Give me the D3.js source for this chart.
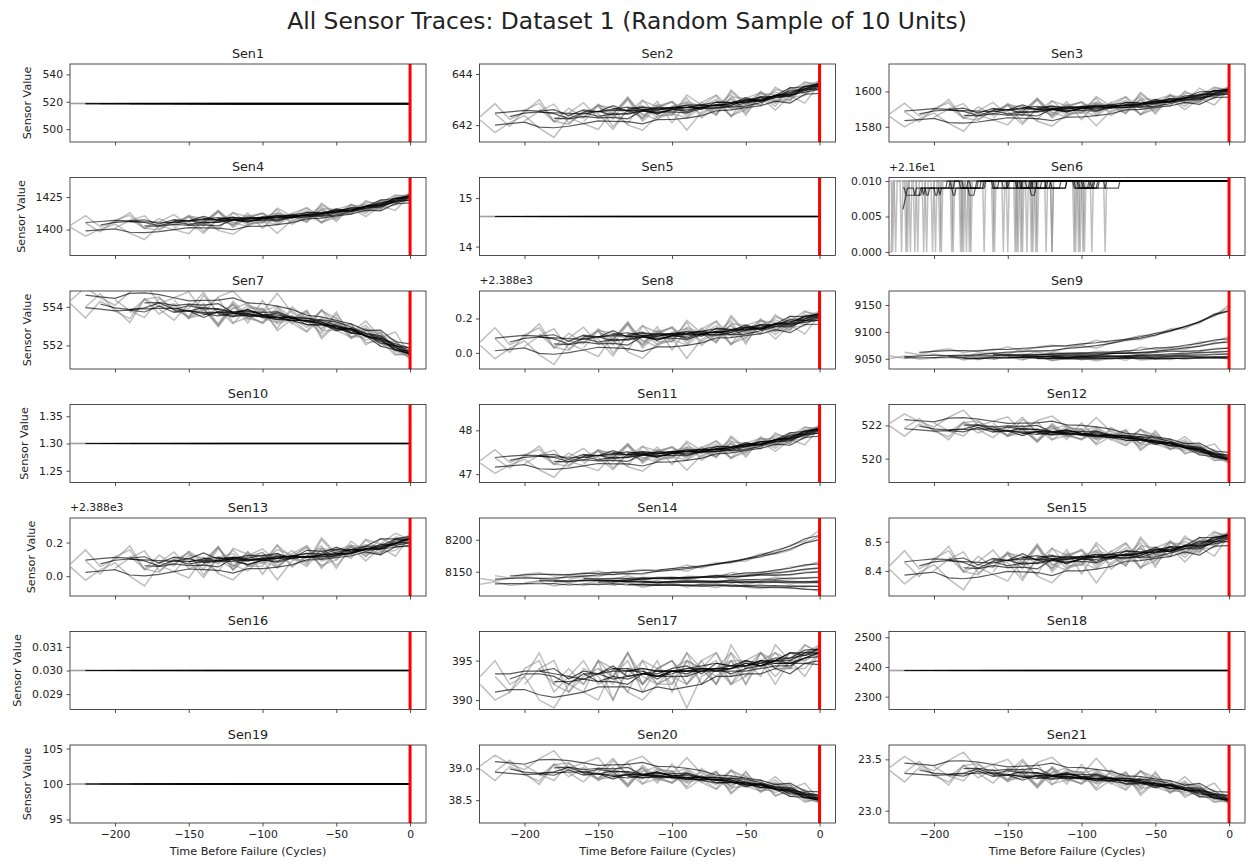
<!DOCTYPE html>
<html>
<head>
<meta charset="utf-8">
<script src="https://cdn.jsdelivr.net/npm/d3@7"></script>
<style>
  body { margin: 0; background: #fff; }
  text { font-family: "DejaVu Sans", sans-serif; }
</style>
</head>
<body>
<svg id="chart" width="1249" height="862"></svg>
<script>
// 10 randomly sampled units, sampled every 10 cycles, last sample is the failure cycle (0)
const unitStarts = [-230, -230, -220, -200, -190, -170, -160, -150, -140, -130]
const sampleStep = 10

const sensorNames = d3.range(1, 22).map(i => 'Sen' + i)

// sensors that never move
const constantValues = { Sen1: 518.67, Sen5: 14.62, Sen10: 1.30, Sen16: 0.03, Sen18: 2388, Sen19: 100 }

// Sen6 sits at 21.61 and drops to 21.60 on these cycles
const sen6High = 21.61
const sen6Low = 21.60
const sen6Drops = [
  [-230, -229, -226, -222, -216, -207, -199, -188, -178, -160, -144, -124],
  [-228, -219, -213, -205, -196, -182, -176, -153, -137, -105],
  [-218, -211, -201, -180, -141, -134, -101],
  [-195, -187, -175, -130, -120, -102],
  [-181, -159, -143, -104, -93],
  [-166, -140, -99, -84],
  [-150, -133, -98],
  [-145, -120],
  [-131],
  []
]

const sen2 = [
  [642.20, 641.71, 642.10, 642.37, 641.88, 641.52, 642.29, 642.06, 641.83, 642.60, 642.01, 641.80, 642.34, 642.51, 641.81, 642.50, 642.80, 642.38, 642.60, 643.08, 642.59, 643.14, 642.86, 643.62],
  [642.33, 642.84, 642.23, 642.49, 643.00, 642.15, 642.66, 642.30, 642.82, 642.47, 643.00, 642.15, 642.68, 642.94, 642.48, 642.90, 642.45, 643.38, 642.84, 642.79, 643.39, 643.28, 643.69, 643.53],
  [642.44, 641.96, 642.59, 642.85, 642.12, 642.38, 642.28, 642.80, 641.94, 642.60, 642.75, 642.28, 642.44, 643.06, 642.28, 642.70, 643.02, 642.60, 643.32, 642.93, 642.95, 643.51, 643.60],
  [642.17, 642.55, 642.82, 642.08, 642.48, 642.75, 642.39, 642.05, 642.95, 642.73, 642.39, 642.93, 642.73, 642.38, 643.32, 642.78, 643.12, 642.85, 643.48, 643.28, 643.73],
  [642.63, 642.15, 642.03, 642.55, 642.45, 641.84, 642.62, 642.28, 642.81, 642.47, 642.27, 642.70, 643.00, 642.32, 642.78, 643.12, 642.74, 643.46, 643.22, 643.57],
  [642.48, 642.88, 642.27, 642.42, 643.07, 642.23, 642.76, 642.89, 642.43, 642.75, 643.15, 642.35, 643.05, 643.27, 642.98, 643.00, 643.56, 643.65],
  [642.13, 642.77, 642.67, 642.45, 642.98, 642.38, 642.40, 643.18, 642.78, 642.41, 643.10, 643.05, 642.76, 643.48, 643.13, 643.42, 643.51],
  [642.72, 642.24, 643.02, 642.43, 642.21, 642.74, 642.88, 642.43, 642.75, 643.20, 642.38, 643.24, 643.20, 642.98, 643.66, 643.63],
  [642.44, 643.10, 642.38, 642.66, 642.91, 642.33, 642.88, 643.18, 642.62, 642.83, 643.27, 642.88, 643.38, 643.43, 643.75],
  [642.62, 642.28, 642.93, 642.09, 642.85, 642.68, 642.60, 643.05, 642.48, 643.09, 643.30, 643.08, 643.16, 643.63]
]

const sen3 = [
  [1585.8, 1579.9, 1584.6, 1587.7, 1581.9, 1577.5, 1586.7, 1583.9, 1581.1, 1590.3, 1583.1, 1580.4, 1586.8, 1589.2, 1580.6, 1589.0, 1592.5, 1587.2, 1589.9, 1595.7, 1589.7, 1596.1, 1592.3, 1601.3],
  [1587.3, 1593.4, 1586.1, 1589.2, 1595.4, 1585.0, 1591.2, 1586.9, 1593.1, 1588.8, 1595.1, 1584.9, 1591.3, 1594.3, 1588.7, 1593.8, 1588.3, 1599.5, 1592.6, 1592.1, 1599.3, 1597.6, 1602.5, 1600.1],
  [1588.6, 1582.8, 1590.4, 1593.6, 1584.7, 1587.9, 1586.6, 1592.8, 1582.5, 1590.3, 1592.1, 1586.5, 1588.3, 1596.2, 1586.3, 1591.3, 1595.0, 1589.9, 1598.4, 1593.6, 1593.7, 1600.1, 1601.0],
  [1585.3, 1590.0, 1593.1, 1584.3, 1589.0, 1592.2, 1587.9, 1583.7, 1594.5, 1591.9, 1587.7, 1594.1, 1591.7, 1587.4, 1598.6, 1592.0, 1596.0, 1594.3, 1601.9, 1597.4, 1602.5],
  [1590.9, 1585.0, 1583.7, 1589.9, 1588.6, 1581.3, 1590.6, 1586.4, 1592.8, 1588.9, 1586.3, 1591.4, 1594.9, 1586.6, 1592.0, 1596.0, 1591.5, 1597.6, 1596.5, 1600.7],
  [1589.1, 1593.8, 1586.5, 1588.2, 1596.0, 1585.8, 1592.2, 1593.7, 1588.1, 1592.0, 1596.7, 1586.9, 1595.3, 1597.8, 1594.2, 1594.3, 1600.7, 1601.6],
  [1584.8, 1592.5, 1591.2, 1588.5, 1594.8, 1587.7, 1587.7, 1597.1, 1591.7, 1587.7, 1595.9, 1595.3, 1591.8, 1600.2, 1595.8, 1599.2, 1599.8],
  [1591.9, 1586.1, 1595.4, 1588.2, 1585.6, 1591.9, 1593.5, 1588.1, 1591.9, 1597.1, 1587.2, 1597.5, 1596.9, 1594.0, 1601.9, 1601.3],
  [1588.5, 1596.3, 1587.6, 1591.0, 1594.0, 1586.9, 1593.5, 1597.0, 1590.2, 1592.6, 1597.8, 1593.0, 1598.8, 1599.2, 1602.8],
  [1590.6, 1586.4, 1594.3, 1584.1, 1593.2, 1591.1, 1590.1, 1595.3, 1588.4, 1595.7, 1598.1, 1595.2, 1595.9, 1601.3]
]

const sen4 = [
  [1401.6, 1394.8, 1400.3, 1404.1, 1397.2, 1392.3, 1403.1, 1399.9, 1396.8, 1407.6, 1399.3, 1396.3, 1403.8, 1406.9, 1397.1, 1407.1, 1411.5, 1405.7, 1409.2, 1416.4, 1410.0, 1418.2, 1414.7, 1426.4],
  [1403.4, 1410.6, 1402.1, 1405.8, 1413.0, 1401.0, 1408.4, 1403.4, 1410.8, 1405.9, 1413.4, 1401.6, 1409.1, 1412.9, 1406.5, 1412.7, 1406.6, 1420.1, 1412.3, 1412.2, 1421.2, 1420.0, 1426.7, 1424.9],
  [1405.0, 1398.2, 1407.2, 1410.9, 1400.7, 1404.5, 1403.0, 1410.5, 1398.5, 1407.8, 1410.0, 1403.5, 1405.8, 1415.3, 1403.9, 1410.1, 1414.8, 1409.2, 1419.6, 1414.5, 1415.4, 1423.9, 1426.0],
  [1401.2, 1406.7, 1410.5, 1400.3, 1405.9, 1409.8, 1404.8, 1400.0, 1412.8, 1409.8, 1405.1, 1412.9, 1410.3, 1405.5, 1419.0, 1411.6, 1416.8, 1413.5, 1422.8, 1420.7, 1427.8],
  [1407.8, 1401.0, 1399.6, 1406.9, 1405.6, 1397.1, 1408.1, 1403.3, 1410.9, 1406.5, 1403.7, 1409.9, 1414.3, 1405.0, 1411.6, 1416.8, 1412.1, 1420.0, 1419.6, 1425.6],
  [1405.9, 1411.5, 1403.1, 1405.1, 1414.4, 1402.6, 1410.2, 1412.2, 1405.8, 1410.6, 1416.4, 1405.3, 1415.5, 1418.9, 1415.2, 1416.1, 1424.6, 1426.7],
  [1400.9, 1410.1, 1408.7, 1405.6, 1413.2, 1404.9, 1405.1, 1416.4, 1410.3, 1405.9, 1415.9, 1415.5, 1411.8, 1422.3, 1417.8, 1422.8, 1424.6],
  [1409.4, 1402.7, 1413.7, 1405.4, 1402.4, 1410.1, 1412.2, 1406.0, 1410.8, 1417.3, 1406.0, 1418.5, 1418.4, 1415.7, 1426.0, 1426.4],
  [1405.5, 1414.8, 1404.7, 1408.8, 1412.5, 1404.4, 1412.4, 1416.8, 1409.2, 1412.3, 1418.9, 1413.8, 1421.4, 1422.8, 1428.1],
  [1408.1, 1403.3, 1412.6, 1400.9, 1411.8, 1409.6, 1408.7, 1415.2, 1407.4, 1416.4, 1419.8, 1417.1, 1418.9, 1426.4]
]

const sen7 = [
  [554.34, 555.01, 554.47, 554.08, 554.76, 555.26, 554.16, 554.47, 554.78, 553.69, 554.52, 554.82, 554.05, 553.73, 554.70, 553.68, 553.22, 553.79, 553.42, 552.67, 553.26, 552.41, 552.70, 551.46],
  [554.16, 553.43, 554.29, 553.91, 553.18, 554.39, 553.63, 554.12, 553.38, 553.86, 553.11, 554.29, 553.52, 553.13, 553.76, 553.12, 553.71, 552.35, 553.11, 553.09, 552.14, 552.23, 551.50, 551.61],
  [553.99, 554.68, 553.77, 553.39, 554.42, 554.02, 554.16, 553.41, 554.60, 553.67, 553.45, 554.08, 553.84, 552.88, 554.00, 553.36, 552.88, 553.42, 552.35, 552.81, 552.69, 551.78, 551.50],
  [554.37, 553.81, 553.44, 554.44, 553.87, 553.48, 553.97, 554.45, 553.17, 553.45, 553.91, 553.12, 553.36, 553.82, 552.46, 553.18, 552.63, 552.91, 551.95, 552.10, 551.32],
  [553.70, 554.39, 554.51, 553.77, 553.90, 554.74, 553.64, 554.12, 553.34, 553.77, 554.04, 553.40, 552.94, 553.86, 553.18, 552.63, 553.05, 552.23, 552.21, 551.54],
  [553.88, 553.31, 554.15, 553.94, 553.01, 554.19, 553.41, 553.20, 553.83, 553.33, 552.73, 553.83, 552.79, 552.42, 552.74, 552.62, 551.71, 551.43],
  [554.37, 553.45, 553.58, 553.89, 553.13, 553.94, 553.91, 552.77, 553.36, 553.78, 552.77, 552.79, 553.13, 552.03, 552.45, 551.89, 551.64],
  [553.52, 554.18, 553.08, 553.91, 554.19, 553.41, 553.19, 553.79, 553.29, 552.63, 553.74, 552.46, 552.42, 552.66, 551.57, 551.46],
  [553.90, 552.97, 553.98, 553.55, 553.17, 553.97, 553.15, 552.69, 553.44, 553.11, 552.42, 552.88, 552.09, 551.89, 551.29],
  [553.64, 554.12, 553.17, 554.33, 553.23, 553.43, 553.50, 552.84, 553.60, 552.67, 552.28, 552.52, 552.28, 551.46]
]

// Sen8 and Sen13 are kept as the amount above 2388 (the axis shows +2.388e3)
const sen8 = [
  [0.044, -0.034, 0.027, 0.069, -0.010, -0.068, 0.054, 0.017, -0.021, 0.102, 0.005, -0.032, 0.052, 0.084, -0.031, 0.079, 0.126, 0.054, 0.087, 0.162, 0.081, 0.162, 0.109, 0.224],
  [0.064, 0.146, 0.047, 0.089, 0.170, 0.032, 0.114, 0.057, 0.139, 0.082, 0.165, 0.028, 0.112, 0.152, 0.077, 0.143, 0.070, 0.218, 0.123, 0.114, 0.209, 0.182, 0.245, 0.208],
  [0.082, 0.003, 0.105, 0.146, 0.028, 0.070, 0.053, 0.135, -0.002, 0.101, 0.124, 0.048, 0.072, 0.177, 0.043, 0.110, 0.158, 0.087, 0.198, 0.133, 0.130, 0.213, 0.220],
  [0.037, 0.098, 0.140, 0.022, 0.085, 0.127, 0.070, 0.013, 0.156, 0.120, 0.064, 0.149, 0.115, 0.058, 0.206, 0.115, 0.166, 0.121, 0.214, 0.177, 0.240],
  [0.110, 0.032, 0.014, 0.097, 0.079, -0.018, 0.105, 0.048, 0.132, 0.080, 0.045, 0.111, 0.158, 0.046, 0.115, 0.166, 0.105, 0.182, 0.165, 0.216],
  [0.086, 0.149, 0.051, 0.074, 0.177, 0.040, 0.124, 0.144, 0.069, 0.119, 0.182, 0.050, 0.159, 0.190, 0.141, 0.138, 0.221, 0.228],
  [0.029, 0.131, 0.114, 0.077, 0.160, 0.064, 0.064, 0.189, 0.115, 0.062, 0.170, 0.159, 0.110, 0.221, 0.158, 0.201, 0.204],
  [0.123, 0.046, 0.169, 0.072, 0.036, 0.120, 0.141, 0.067, 0.118, 0.186, 0.051, 0.186, 0.177, 0.134, 0.237, 0.224],
  [0.078, 0.181, 0.064, 0.108, 0.148, 0.053, 0.139, 0.186, 0.094, 0.123, 0.190, 0.125, 0.198, 0.201, 0.244],
  [0.105, 0.048, 0.152, 0.016, 0.137, 0.107, 0.094, 0.162, 0.067, 0.162, 0.193, 0.150, 0.157, 0.224]
]

const sen9 = [
  [9055.0, 9050.9, 9055.6, 9059.1, 9055.0, 9052.2, 9061.1, 9060.0, 9058.9, 9067.8, 9063.4, 9062.8, 9070.2, 9074.3, 9069.6, 9079.9, 9086.1, 9085.8, 9093.0, 9103.6, 9106.0, 9120.4, 9128.7, 9150.3],
  [9050.3, 9055.3, 9049.0, 9051.5, 9056.5, 9047.7, 9052.8, 9049.0, 9054.0, 9050.3, 9055.3, 9046.5, 9051.5, 9053.8, 9048.7, 9052.5, 9047.5, 9056.3, 9049.7, 9048.5, 9053.5, 9050.8, 9053.3, 9049.2],
  [9062.2, 9057.9, 9065.1, 9068.4, 9061.8, 9065.5, 9065.5, 9071.9, 9064.4, 9072.4, 9075.3, 9072.4, 9075.7, 9084.6, 9079.2, 9086.4, 9093.1, 9093.2, 9105.5, 9108.0, 9116.2, 9131.9, 9145.0],
  [9051.3, 9055.5, 9058.4, 9051.5, 9055.8, 9058.9, 9055.7, 9052.6, 9062.2, 9060.7, 9057.8, 9064.0, 9063.1, 9060.5, 9071.2, 9067.2, 9072.4, 9072.0, 9081.0, 9082.5, 9091.3],
  [9054.2, 9049.5, 9048.8, 9054.3, 9053.6, 9047.9, 9056.1, 9053.0, 9058.9, 9056.2, 9054.8, 9060.0, 9063.9, 9058.1, 9063.9, 9069.0, 9067.3, 9075.0, 9077.3, 9084.7],
  [9057.0, 9061.0, 9054.9, 9056.4, 9063.0, 9054.5, 9059.9, 9061.3, 9056.7, 9060.1, 9064.2, 9056.1, 9063.3, 9065.7, 9062.9, 9063.4, 9069.3, 9070.5],
  [9048.4, 9054.9, 9054.0, 9051.7, 9057.1, 9051.1, 9051.2, 9059.3, 9054.9, 9051.7, 9058.7, 9058.3, 9055.6, 9063.0, 9059.6, 9063.0, 9064.0],
  [9056.5, 9051.6, 9059.2, 9053.0, 9050.6, 9055.8, 9057.0, 9052.1, 9055.1, 9059.1, 9050.3, 9058.5, 9057.4, 9054.2, 9060.0, 9058.3],
  [9048.4, 9054.8, 9047.3, 9050.0, 9052.3, 9046.1, 9051.4, 9054.0, 9047.9, 9049.4, 9053.3, 9048.5, 9052.6, 9051.8, 9053.5],
  [9053.9, 9050.2, 9056.5, 9047.8, 9055.2, 9053.1, 9051.9, 9055.9, 9049.5, 9055.0, 9056.2, 9052.8, 9052.2, 9055.3]
]

const sen11 = [
  [47.25, 47.02, 47.21, 47.34, 47.10, 46.93, 47.30, 47.19, 47.08, 47.46, 47.17, 47.07, 47.32, 47.43, 47.09, 47.43, 47.58, 47.38, 47.50, 47.74, 47.52, 47.79, 47.67, 48.06],
  [47.31, 47.56, 47.27, 47.40, 47.64, 47.23, 47.48, 47.31, 47.56, 47.40, 47.65, 47.25, 47.50, 47.63, 47.41, 47.62, 47.41, 47.87, 47.60, 47.60, 47.90, 47.85, 48.08, 48.01],
  [47.37, 47.14, 47.44, 47.57, 47.22, 47.35, 47.30, 47.55, 47.14, 47.46, 47.53, 47.31, 47.39, 47.71, 47.32, 47.53, 47.69, 47.50, 47.85, 47.68, 47.70, 47.98, 48.05],
  [47.24, 47.43, 47.55, 47.21, 47.40, 47.53, 47.36, 47.19, 47.63, 47.53, 47.37, 47.63, 47.54, 47.38, 47.83, 47.58, 47.75, 47.64, 47.95, 47.88, 48.11],
  [47.46, 47.23, 47.18, 47.43, 47.38, 47.10, 47.47, 47.31, 47.56, 47.41, 47.32, 47.53, 47.68, 47.35, 47.58, 47.75, 47.59, 47.85, 47.84, 48.04],
  [47.40, 47.59, 47.30, 47.37, 47.69, 47.28, 47.54, 47.61, 47.39, 47.55, 47.75, 47.37, 47.71, 47.82, 47.70, 47.72, 48.01, 48.07],
  [47.23, 47.54, 47.49, 47.39, 47.64, 47.36, 47.37, 47.75, 47.54, 47.39, 47.73, 47.71, 47.58, 47.94, 47.78, 47.95, 48.00],
  [47.52, 47.29, 47.66, 47.38, 47.28, 47.53, 47.61, 47.40, 47.56, 47.77, 47.39, 47.81, 47.81, 47.71, 48.06, 48.06],
  [47.38, 47.70, 47.35, 47.49, 47.62, 47.34, 47.61, 47.76, 47.50, 47.60, 47.82, 47.65, 47.90, 47.95, 48.12],
  [47.47, 47.31, 47.62, 47.22, 47.59, 47.52, 47.49, 47.70, 47.44, 47.74, 47.86, 47.76, 47.82, 48.06]
]

const sen12 = [
  [522.12, 522.70, 522.23, 521.91, 522.49, 522.92, 521.98, 522.25, 522.52, 521.59, 522.30, 522.56, 521.90, 521.64, 522.48, 521.61, 521.23, 521.72, 521.42, 520.79, 521.32, 520.61, 520.89, 519.87],
  [521.97, 521.35, 522.08, 521.76, 521.14, 522.17, 521.53, 521.95, 521.32, 521.74, 521.10, 522.11, 521.45, 521.13, 521.67, 521.13, 521.65, 520.49, 521.15, 521.15, 520.36, 520.46, 519.87, 519.99],
  [521.83, 522.41, 521.64, 521.32, 522.20, 521.86, 521.98, 521.35, 522.37, 521.58, 521.39, 521.93, 521.73, 520.92, 521.88, 521.35, 520.94, 521.42, 520.52, 520.93, 520.85, 520.11, 519.90],
  [522.15, 521.68, 521.36, 522.22, 521.74, 521.41, 521.83, 522.24, 521.15, 521.39, 521.79, 521.13, 521.34, 521.74, 520.58, 521.21, 520.76, 521.02, 520.22, 520.38, 519.75],
  [521.59, 522.17, 522.28, 521.65, 521.77, 522.49, 521.55, 521.96, 521.30, 521.67, 521.91, 521.37, 520.99, 521.78, 521.21, 520.76, 521.14, 520.46, 520.47, 519.93],
  [521.74, 521.26, 521.98, 521.80, 521.01, 522.02, 521.36, 521.19, 521.73, 521.31, 520.81, 521.75, 520.88, 520.58, 520.87, 520.79, 520.05, 519.84],
  [522.16, 521.38, 521.50, 521.76, 521.12, 521.81, 521.79, 520.83, 521.34, 521.71, 520.85, 520.88, 521.18, 520.27, 520.64, 520.20, 520.02],
  [521.44, 522.01, 521.07, 521.78, 522.02, 521.37, 521.19, 521.70, 521.29, 520.73, 521.69, 520.61, 520.60, 520.82, 519.93, 519.87],
  [521.77, 520.98, 521.84, 521.48, 521.16, 521.85, 521.16, 520.78, 521.42, 521.15, 520.58, 520.99, 520.34, 520.20, 519.72],
  [521.55, 521.96, 521.15, 522.15, 521.22, 521.40, 521.47, 520.91, 521.57, 520.79, 520.48, 520.70, 520.53, 519.87]
]

const sen13 = [
  [0.054, -0.024, 0.037, 0.079, 0.000, -0.058, 0.064, 0.027, -0.011, 0.112, 0.015, -0.022, 0.062, 0.094, -0.021, 0.089, 0.136, 0.064, 0.097, 0.172, 0.091, 0.172, 0.119, 0.234],
  [0.074, 0.156, 0.057, 0.099, 0.180, 0.042, 0.124, 0.067, 0.149, 0.092, 0.175, 0.038, 0.122, 0.162, 0.087, 0.153, 0.080, 0.228, 0.133, 0.124, 0.219, 0.192, 0.255, 0.218],
  [0.092, 0.013, 0.115, 0.156, 0.038, 0.080, 0.063, 0.145, 0.008, 0.111, 0.134, 0.058, 0.082, 0.187, 0.053, 0.120, 0.168, 0.097, 0.208, 0.143, 0.140, 0.223, 0.230],
  [0.047, 0.108, 0.150, 0.032, 0.095, 0.137, 0.080, 0.023, 0.166, 0.130, 0.074, 0.159, 0.125, 0.068, 0.216, 0.125, 0.176, 0.131, 0.224, 0.187, 0.250],
  [0.120, 0.042, 0.024, 0.107, 0.089, -0.008, 0.115, 0.058, 0.142, 0.090, 0.055, 0.121, 0.168, 0.056, 0.125, 0.176, 0.115, 0.192, 0.175, 0.226],
  [0.081, 0.144, 0.046, 0.069, 0.172, 0.035, 0.119, 0.139, 0.064, 0.114, 0.177, 0.045, 0.154, 0.185, 0.136, 0.133, 0.216, 0.223],
  [0.024, 0.126, 0.109, 0.072, 0.155, 0.059, 0.059, 0.184, 0.110, 0.057, 0.165, 0.154, 0.105, 0.216, 0.153, 0.196, 0.199],
  [0.118, 0.041, 0.164, 0.067, 0.031, 0.115, 0.136, 0.062, 0.113, 0.181, 0.046, 0.181, 0.172, 0.129, 0.232, 0.219],
  [0.073, 0.176, 0.059, 0.103, 0.143, 0.048, 0.134, 0.181, 0.089, 0.118, 0.185, 0.120, 0.193, 0.196, 0.239],
  [0.100, 0.043, 0.147, 0.011, 0.132, 0.102, 0.089, 0.157, 0.062, 0.157, 0.188, 0.145, 0.152, 0.219]
]

const sen14 = [
  [8139.2, 8136.0, 8139.7, 8142.5, 8139.2, 8137.0, 8144.1, 8143.2, 8142.3, 8149.5, 8146.0, 8145.5, 8151.3, 8154.6, 8150.9, 8159.1, 8164.1, 8163.8, 8169.5, 8178.0, 8179.9, 8191.4, 8198.1, 8215.2],
  [8130.2, 8134.1, 8129.0, 8130.9, 8134.8, 8127.7, 8131.6, 8128.4, 8132.3, 8129.1, 8132.9, 8125.7, 8129.5, 8131.0, 8126.7, 8129.3, 8124.9, 8131.4, 8125.6, 8123.9, 8127.0, 8123.7, 8124.3, 8119.4],
  [8143.6, 8140.3, 8145.9, 8148.5, 8143.2, 8146.1, 8146.0, 8151.0, 8144.9, 8151.2, 8153.5, 8151.0, 8153.6, 8160.5, 8156.0, 8161.5, 8166.7, 8166.5, 8175.9, 8177.5, 8183.5, 8195.3, 8205.0],
  [8132.6, 8135.9, 8138.2, 8132.7, 8136.2, 8138.6, 8136.1, 8133.8, 8141.4, 8140.2, 8138.0, 8143.0, 8142.2, 8140.3, 8148.9, 8145.8, 8150.1, 8150.0, 8157.3, 8158.8, 8166.0],
  [8138.1, 8134.4, 8133.7, 8138.0, 8137.4, 8132.7, 8139.2, 8136.7, 8141.2, 8139.0, 8137.7, 8141.6, 8144.5, 8139.7, 8144.1, 8147.7, 8145.9, 8151.5, 8152.7, 8157.8],
  [8138.6, 8141.8, 8137.0, 8138.2, 8143.5, 8136.8, 8141.1, 8142.2, 8138.6, 8141.3, 8144.6, 8138.3, 8144.1, 8146.0, 8143.9, 8144.4, 8149.2, 8150.4],
  [8130.6, 8135.8, 8134.9, 8133.1, 8137.3, 8132.6, 8132.6, 8138.9, 8135.3, 8132.7, 8138.2, 8137.8, 8135.5, 8141.2, 8138.3, 8140.7, 8141.2],
  [8136.2, 8132.2, 8138.1, 8133.1, 8131.1, 8135.0, 8135.7, 8131.7, 8133.8, 8136.7, 8129.4, 8135.4, 8134.0, 8130.8, 8134.5, 8132.2],
  [8128.7, 8133.6, 8127.6, 8129.5, 8131.2, 8126.1, 8130.0, 8131.9, 8126.7, 8127.5, 8130.1, 8125.9, 8128.3, 8126.9, 8127.2],
  [8134.6, 8131.7, 8136.7, 8129.8, 8135.7, 8134.0, 8133.1, 8136.3, 8131.3, 8135.7, 8136.7, 8134.1, 8133.7, 8136.2]
]

const sen15 = [
  [8.405, 8.356, 8.395, 8.421, 8.372, 8.335, 8.412, 8.388, 8.365, 8.442, 8.382, 8.359, 8.411, 8.431, 8.359, 8.428, 8.458, 8.413, 8.434, 8.481, 8.431, 8.482, 8.450, 8.523],
  [8.418, 8.469, 8.407, 8.433, 8.484, 8.398, 8.450, 8.413, 8.465, 8.430, 8.482, 8.396, 8.448, 8.474, 8.427, 8.468, 8.423, 8.516, 8.457, 8.451, 8.511, 8.495, 8.535, 8.513],
  [8.429, 8.380, 8.443, 8.469, 8.395, 8.422, 8.411, 8.463, 8.377, 8.442, 8.456, 8.408, 8.424, 8.489, 8.406, 8.448, 8.478, 8.434, 8.504, 8.464, 8.462, 8.515, 8.520],
  [8.401, 8.439, 8.465, 8.392, 8.431, 8.458, 8.422, 8.387, 8.476, 8.453, 8.419, 8.472, 8.451, 8.416, 8.508, 8.452, 8.484, 8.456, 8.515, 8.492, 8.533],
  [8.447, 8.398, 8.387, 8.438, 8.428, 8.367, 8.444, 8.409, 8.461, 8.429, 8.407, 8.448, 8.478, 8.408, 8.452, 8.484, 8.446, 8.495, 8.485, 8.518],
  [8.432, 8.471, 8.410, 8.425, 8.489, 8.404, 8.456, 8.469, 8.422, 8.453, 8.493, 8.411, 8.479, 8.499, 8.469, 8.467, 8.520, 8.525],
  [8.396, 8.460, 8.450, 8.427, 8.479, 8.418, 8.419, 8.497, 8.451, 8.418, 8.486, 8.479, 8.449, 8.519, 8.480, 8.507, 8.510],
  [8.455, 8.407, 8.484, 8.424, 8.401, 8.454, 8.467, 8.421, 8.453, 8.496, 8.412, 8.496, 8.491, 8.465, 8.530, 8.523],
  [8.427, 8.492, 8.419, 8.446, 8.471, 8.412, 8.466, 8.496, 8.438, 8.457, 8.499, 8.459, 8.505, 8.507, 8.535],
  [8.444, 8.409, 8.473, 8.389, 8.464, 8.446, 8.438, 8.481, 8.422, 8.481, 8.501, 8.475, 8.480, 8.523]
]

const sen17 = [
  [392, 390, 391, 393, 390, 389, 392, 391, 390, 394, 391, 390, 392, 393, 389, 393, 394, 392, 393, 395, 392, 395, 393, 396],
  [393, 395, 392, 393, 396, 392, 394, 392, 395, 393, 395, 391, 394, 395, 393, 395, 392, 397, 394, 394, 396, 395, 397, 396],
  [393, 391, 394, 395, 391, 393, 392, 395, 390, 394, 394, 392, 393, 396, 392, 394, 395, 393, 396, 394, 394, 396, 396],
  [392, 394, 395, 391, 393, 394, 393, 391, 395, 394, 392, 395, 394, 392, 396, 394, 395, 394, 396, 395, 397],
  [394, 392, 391, 394, 393, 390, 394, 392, 394, 393, 392, 394, 395, 392, 394, 395, 393, 395, 395, 396],
  [393, 395, 392, 393, 396, 392, 394, 395, 392, 394, 396, 392, 395, 396, 394, 394, 396, 396],
  [391, 395, 394, 393, 395, 392, 392, 396, 394, 392, 395, 395, 393, 397, 395, 396, 396],
  [394, 392, 396, 393, 392, 394, 395, 392, 394, 396, 392, 396, 395, 394, 397, 396],
  [393, 396, 392, 394, 395, 392, 395, 396, 393, 394, 396, 394, 396, 396, 397],
  [394, 392, 395, 391, 395, 394, 393, 395, 392, 395, 396, 394, 394, 396]
]

const sen20 = [
  [39.04, 39.21, 39.07, 38.98, 39.15, 39.28, 39.00, 39.09, 39.17, 38.89, 39.11, 39.19, 38.99, 38.92, 39.17, 38.92, 38.81, 38.96, 38.88, 38.70, 38.87, 38.67, 38.77, 38.49],
  [38.99, 38.81, 39.03, 38.93, 38.75, 39.06, 38.87, 39.00, 38.81, 38.94, 38.75, 39.05, 38.86, 38.77, 38.93, 38.78, 38.94, 38.60, 38.80, 38.81, 38.58, 38.63, 38.47, 38.53],
  [38.95, 39.13, 38.90, 38.80, 39.07, 38.97, 39.01, 38.82, 39.13, 38.89, 38.84, 39.00, 38.95, 38.71, 39.00, 38.85, 38.73, 38.88, 38.62, 38.76, 38.75, 38.54, 38.50],
  [39.05, 38.91, 38.81, 39.08, 38.93, 38.84, 38.96, 39.09, 38.76, 38.84, 38.96, 38.77, 38.84, 38.96, 38.62, 38.82, 38.69, 38.78, 38.56, 38.62, 38.46],
  [38.88, 39.06, 39.09, 38.91, 38.94, 39.16, 38.88, 39.01, 38.81, 38.93, 39.00, 38.85, 38.74, 38.98, 38.82, 38.69, 38.82, 38.63, 38.65, 38.51],
  [38.93, 38.79, 39.01, 38.95, 38.72, 39.02, 38.83, 38.78, 38.95, 38.83, 38.68, 38.97, 38.72, 38.64, 38.74, 38.73, 38.52, 38.48],
  [39.06, 38.83, 38.86, 38.94, 38.75, 38.97, 38.96, 38.68, 38.84, 38.95, 38.70, 38.72, 38.82, 38.56, 38.68, 38.57, 38.54],
  [38.85, 39.02, 38.74, 38.95, 39.03, 38.84, 38.79, 38.95, 38.83, 38.67, 38.96, 38.65, 38.66, 38.74, 38.49, 38.49],
  [38.95, 38.71, 38.97, 38.87, 38.77, 38.98, 38.78, 38.67, 38.87, 38.80, 38.64, 38.77, 38.59, 38.57, 38.45],
  [38.88, 39.01, 38.77, 39.07, 38.80, 38.86, 38.88, 38.72, 38.93, 38.70, 38.62, 38.70, 38.67, 38.49]
]

const sen21 = [
  [23.42, 23.53, 23.44, 23.39, 23.49, 23.57, 23.40, 23.45, 23.50, 23.33, 23.47, 23.52, 23.40, 23.35, 23.51, 23.35, 23.29, 23.38, 23.33, 23.22, 23.33, 23.20, 23.27, 23.09],
  [23.39, 23.28, 23.42, 23.36, 23.25, 23.44, 23.32, 23.40, 23.28, 23.36, 23.25, 23.43, 23.32, 23.26, 23.36, 23.26, 23.36, 23.15, 23.28, 23.29, 23.15, 23.18, 23.08, 23.12],
  [23.37, 23.48, 23.34, 23.28, 23.44, 23.38, 23.40, 23.29, 23.48, 23.33, 23.30, 23.40, 23.37, 23.22, 23.40, 23.31, 23.24, 23.33, 23.17, 23.25, 23.25, 23.12, 23.10],
  [23.43, 23.34, 23.29, 23.45, 23.36, 23.30, 23.38, 23.46, 23.26, 23.30, 23.38, 23.26, 23.30, 23.38, 23.17, 23.29, 23.21, 23.27, 23.13, 23.17, 23.07],
  [23.33, 23.44, 23.46, 23.34, 23.37, 23.50, 23.33, 23.41, 23.29, 23.36, 23.40, 23.31, 23.24, 23.39, 23.29, 23.21, 23.29, 23.18, 23.19, 23.11],
  [23.36, 23.27, 23.41, 23.37, 23.23, 23.42, 23.30, 23.27, 23.37, 23.30, 23.21, 23.39, 23.23, 23.18, 23.24, 23.24, 23.11, 23.09],
  [23.44, 23.30, 23.32, 23.37, 23.25, 23.38, 23.38, 23.20, 23.30, 23.37, 23.22, 23.23, 23.29, 23.13, 23.21, 23.14, 23.12],
  [23.31, 23.41, 23.24, 23.37, 23.42, 23.30, 23.27, 23.37, 23.30, 23.20, 23.38, 23.19, 23.19, 23.24, 23.09, 23.09],
  [23.37, 23.22, 23.38, 23.32, 23.26, 23.39, 23.27, 23.20, 23.33, 23.28, 23.18, 23.27, 23.15, 23.14, 23.07],
  [23.33, 23.41, 23.26, 23.45, 23.28, 23.31, 23.33, 23.23, 23.36, 23.22, 23.17, 23.22, 23.20, 23.09]
]

const sensorData = {
  Sen2: sen2, Sen3: sen3, Sen4: sen4, Sen7: sen7, Sen8: sen8, Sen9: sen9, Sen11: sen11,
  Sen12: sen12, Sen13: sen13, Sen14: sen14, Sen15: sen15, Sen17: sen17, Sen20: sen20, Sen21: sen21
}

const offsetLabels = { Sen6: '+2.16e1', Sen8: '+2.388e3', Sen13: '+2.388e3' }
const sen6Offset = 21.6

const yDomains = {
  Sen1: [490.6, 547.6], Sen2: [641.34, 644.39], Sen3: [1571.4, 1615.5], Sen4: [1380, 1440],
  Sen5: [13.816, 15.424], Sen6: [-0.0005, 0.0105], Sen7: [550.78, 554.82], Sen8: [-0.094, 0.36],
  Sen9: [9031, 9176], Sen10: [1.2285, 1.3715], Sen11: [46.81, 48.59], Sen12: [518.56, 523.26],
  Sen13: [-0.118, 0.346], Sen14: [8112, 8234], Sen15: [8.314, 8.581], Sen16: [0.02835, 0.03165],
  Sen17: [388.8, 398.7], Sen18: [2256.7, 2519.3], Sen19: [94.5, 105.5], Sen20: [38.14, 39.37],
  Sen21: [22.88, 23.64]
}

const yTicks = {
  Sen1: [500, 520, 540], Sen2: [642, 644], Sen3: [1580, 1600], Sen4: [1400, 1425],
  Sen5: [14, 15], Sen6: [0, 0.005, 0.01], Sen7: [552, 554], Sen8: [0, 0.2],
  Sen9: [9050, 9100, 9150], Sen10: [1.25, 1.30, 1.35], Sen11: [47, 48], Sen12: [520, 522],
  Sen13: [0, 0.2], Sen14: [8150, 8200], Sen15: [8.4, 8.5], Sen16: [0.029, 0.030, 0.031],
  Sen17: [390, 395], Sen18: [2300, 2400, 2500], Sen19: [95, 100, 105], Sen20: [38.5, 39.0],
  Sen21: [23.0, 23.5]
}

const yTickLabels = {
  Sen1: ['500', '520', '540'], Sen2: ['642', '644'], Sen3: ['1580', '1600'], Sen4: ['1400', '1425'],
  Sen5: ['14', '15'], Sen6: ['0.000', '0.005', '0.010'], Sen7: ['552', '554'], Sen8: ['0.0', '0.2'],
  Sen9: ['9050', '9100', '9150'], Sen10: ['1.25', '1.30', '1.35'], Sen11: ['47', '48'], Sen12: ['520', '522'],
  Sen13: ['0.0', '0.2'], Sen14: ['8150', '8200'], Sen15: ['8.4', '8.5'], Sen16: ['0.029', '0.030', '0.031'],
  Sen17: ['390', '395'], Sen18: ['2300', '2400', '2500'], Sen19: ['95', '100', '105'], Sen20: ['38.5', '39.0'],
  Sen21: ['23.0', '23.5']
}

const xTicks = [-200, -150, -100, -50, 0]
const xTickLabels = ['\u2212200', '\u2212150', '\u2212100', '\u221250', '0']

const W = 356
const H = 78
const colLeft = [70, 479.5, 889]
const rowTop = d3.range(7).map(r => 64 + r * 113.5)
const tickFont = 10.8
const labelFont = 11.2
const titleFont = 12.8

const svg = d3.select('#chart')

svg.append('text')
  .attr('x', 627)
  .attr('y', 29)
  .attr('text-anchor', 'middle')
  .attr('font-size', 23.4)
  .attr('fill', '#222')
  .text('All Sensor Traces: Dataset 1 (Random Sample of 10 Units)')

const x = d3.scaleLinear().domain([-230.5, 10.8]).range([0, W])

// time for each sample counted back from failure
function unitPoints(values) {
  const n = values.length
  return values.map((v, k) => [-(n - 1 - k) * sampleStep, v])
}

// short moving average, starting one sample in, as the smoothed trace
function smooth(pts) {
  return pts.slice(1).map((p, j) => {
    const k = j + 1
    return [p[0], d3.mean(pts.slice(k - 1, k + 2), d => d[1])]
  })
}

function sen6Points(u) {
  const pts = []
  for (let c = unitStarts[u]; c <= 0; c++) {
    const v = sen6Drops[u].includes(c) ? sen6Low : sen6High
    pts.push([c, v - sen6Offset])
  }
  return pts
}

function rolling10(pts) {
  return pts.slice(9).map((p, j) => [p[0], d3.mean(pts.slice(j, j + 10), d => d[1])])
}

sensorNames.forEach((name, i) => {
  const row = Math.floor(i / 3)
  const col = i % 3
  const left = colLeft[col]
  const top = rowTop[row]

  const g = svg.append('g').attr('transform', `translate(${left},${top})`)
  const y = d3.scaleLinear().domain(yDomains[name]).range([H, 0])

  g.append('clipPath').attr('id', 'clip' + i)
    .append('rect').attr('width', W).attr('height', H)

  let rawLines = []
  let meanLines = []
  if (name in constantValues) {
    const v = constantValues[name]
    rawLines = unitStarts.map(s => [[s, v], [0, v]])
    meanLines = unitStarts.map(s => [[s + sampleStep, v], [0, v]])
  } else if (name === 'Sen6') {
    rawLines = unitStarts.map((s, u) => sen6Points(u))
    meanLines = rawLines.map(rolling10)
  } else {
    rawLines = sensorData[name].map(unitPoints)
    meanLines = rawLines.map(smooth)
  }

  const line = d3.line().x(d => x(d[0])).y(d => y(d[1]))
  const plot = g.append('g').attr('clip-path', `url(#clip${i})`)

  plot.selectAll('path.raw')
    .data(rawLines)
    .enter()
    .append('path')
    .attr('class', 'raw')
    .attr('d', line)
    .attr('fill', 'none')
    .attr('stroke', '#808080')
    .attr('stroke-opacity', 0.5)
    .attr('stroke-width', 1.5)

  plot.selectAll('path.mean')
    .data(meanLines)
    .enter()
    .append('path')
    .attr('class', 'mean')
    .attr('d', line)
    .attr('fill', 'none')
    .attr('stroke', '#000')
    .attr('stroke-opacity', 0.65)
    .attr('stroke-width', 1.2)

  // failure marker
  plot.append('line')
    .attr('x1', x(0)).attr('x2', x(0))
    .attr('y1', 0).attr('y2', H)
    .attr('stroke', '#ff0000')
    .attr('stroke-width', 3)

  const yAxis = g.append('g')
    .call(d3.axisLeft(y).tickValues(yTicks[name]).tickFormat((d, k) => yTickLabels[name][k]).tickSize(3.5).tickPadding(3.5))
  yAxis.select('.domain').remove()

  const xAxis = g.append('g')
    .attr('transform', `translate(0,${H})`)
    .call(d3.axisBottom(x).tickValues(xTicks).tickFormat((d, k) => row === 6 ? xTickLabels[k] : '').tickSize(3.5).tickPadding(3.5))
  xAxis.select('.domain').remove()

  g.selectAll('.tick text')
    .attr('font-family', '"DejaVu Sans", sans-serif')
    .attr('font-size', tickFont)
    .attr('fill', '#222')
  g.selectAll('.tick line').attr('stroke', '#222').attr('stroke-width', 0.8)

  g.append('rect')
    .attr('width', W).attr('height', H)
    .attr('fill', 'none')
    .attr('stroke', '#222')
    .attr('stroke-width', 0.8)

  g.append('text')
    .attr('x', W / 2).attr('y', -6.5)
    .attr('text-anchor', 'middle')
    .attr('font-size', titleFont)
    .attr('fill', '#222')
    .text(name)

  if (offsetLabels[name]) {
    g.append('text')
      .attr('x', 0).attr('y', -7)
      .attr('font-size', tickFont)
      .attr('fill', '#222')
      .text(offsetLabels[name])
  }

  if (col === 0) {
    let maxW = 0
    yAxis.selectAll('.tick text').each(function () { maxW = Math.max(maxW, this.getComputedTextLength()) })
    const lx = -7 - maxW - 11
    g.append('text')
      .attr('transform', `translate(${lx},${H / 2}) rotate(-90)`)
      .attr('text-anchor', 'middle')
      .attr('font-size', labelFont)
      .attr('fill', '#222')
      .text('Sensor Value')
  }

  if (row === 6) {
    g.append('text')
      .attr('x', W / 2).attr('y', H + 32)
      .attr('text-anchor', 'middle')
      .attr('font-size', labelFont)
      .attr('fill', '#222')
      .text('Time Before Failure (Cycles)')
  }
})
</script>
</body>
</html>
